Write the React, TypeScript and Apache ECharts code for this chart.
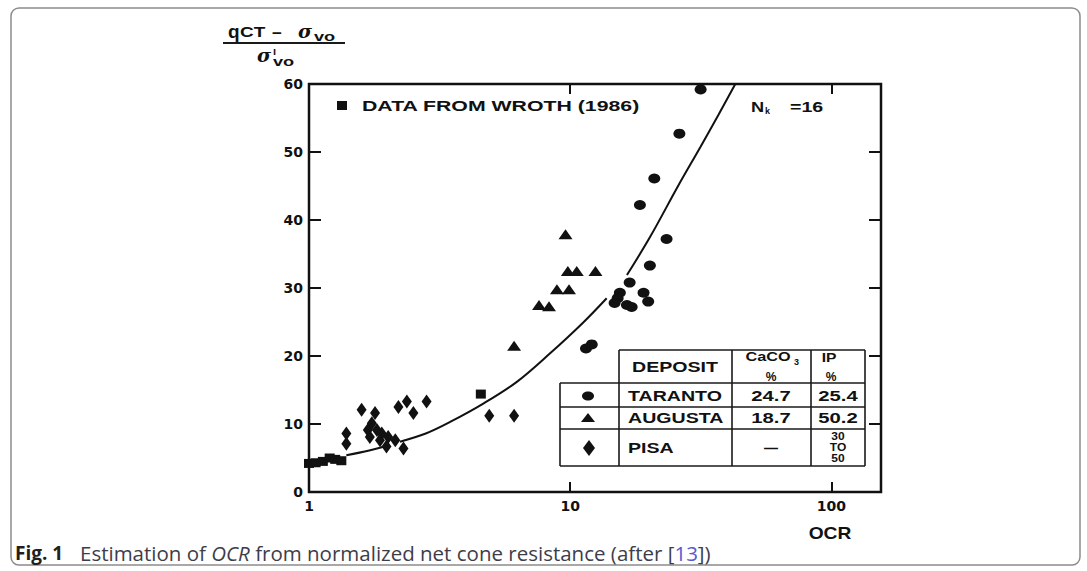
import React, { useEffect, useRef } from "react";
import * as echarts from "echarts";

// ---- Data ----
const xTickValues = [1, 10, 100];
const xTickLabels = ["1", "10", "100"];
const yTickLabels = ["0", "10", "20", "30", "40", "50", "60"];

// [OCR, (qct - svo)/s'vo]
const wrothData = [
  [1.0, 4.2], [1.06, 4.3], [1.13, 4.5], [1.2, 5.0], [1.26, 4.8], [1.33, 4.6], [4.55, 14.4],
];
const tarantoData = [
  [31.6, 59.2], [26.2, 52.7], [21.0, 46.1], [18.5, 42.2], [23.4, 37.2], [20.2, 33.3],
  [16.9, 30.8], [15.5, 29.3], [19.1, 29.3], [14.8, 27.8], [16.5, 27.5], [17.2, 27.2],
  [19.9, 28.0], [15.2, 28.5], [11.5, 21.1], [12.1, 21.7],
];
const augustaData = [
  [9.6, 37.9], [9.8, 32.5], [10.6, 32.5], [12.5, 32.5], [8.9, 29.8], [9.9, 29.8],
  [7.6, 27.5], [8.3, 27.3], [6.1, 21.5],
];
const pisaData = [
  [1.39, 8.6], [1.39, 7.1], [1.59, 12.1], [1.79, 11.6], [1.74, 10.1], [1.82, 9.1],
  [1.68, 9.1], [1.71, 8.1], [1.9, 8.6], [2.01, 8.1], [1.87, 7.6], [1.98, 6.7],
  [2.14, 7.6], [2.2, 12.5], [2.37, 13.3], [2.51, 11.6], [2.3, 6.4], [2.82, 13.3],
  [4.9, 11.2], [6.1, 11.2],
];
// fitted curve (Nk = 16), drawn in three pieces as in the figure
const curveSeg1 = [[1.39, 5.4], [1.7, 6.1], [2.04, 6.9]];
const curveSeg2 = [
  [2.23, 7.4], [2.8, 8.6], [3.47, 10.3], [4.65, 13.0], [6.25, 16.2], [8.38, 20.4],
  [11.2, 24.9], [13.8, 28.5],
];
const curveSeg3 = [
  [16.5, 31.9], [20.3, 37.6], [25.9, 45.0], [31.5, 50.7], [36.9, 55.4], [42.9, 60],
];

// legend table
const depositNames = ["TARANTO", "AUGUSTA", "PISA"];
const caco3Values = ["24.7", "18.7", "—"];
const ipValues = ["25.4", "50.2", "30 TO 50"];

const INK = "#111";
const SANS = "'Liberation Sans', Arial, sans-serif";
const AXF = "'DejaVu Sans', sans-serif";

function txt(x: number, y: number, text: string, o: any = {}) {
  const align = o.align || "left";
  return {
    type: "text",
    x,
    y,
    scaleX: o.scaleX ?? 1,
    silent: true,
    style: {
      text,
      fill: o.fill || INK,
      fontFamily: o.fontFamily || SANS,
      fontSize: o.fontSize || 14,
      fontWeight: o.fontWeight || "bold",
      fontStyle: o.fontStyle || "normal",
      align,
      textAlign: align,
      verticalAlign: "middle",
      textVerticalAlign: "middle",
    },
  };
}
function ln(x1: number, y1: number, x2: number, y2: number, w = 1.6) {
  return {
    type: "line",
    silent: true,
    shape: { x1, y1, x2, y2 },
    style: { stroke: "#1a1a1a", lineWidth: w },
  };
}

export default function App() {
  const ref = useRef<HTMLDivElement>(null);
  useEffect(() => {
    if (!ref.current) return;
    const chart = echarts.init(ref.current, null, { renderer: "svg" });

    const labelFmt = (v: number) => {
      const i = xTickValues.findIndex((t) => Math.abs(t - v) < 1e-6);
      return i >= 0 ? xTickLabels[i] : "";
    };
    const yFmt = (v: number) => (yTickLabels.includes(String(v)) ? String(v) : "");

    const tickStyle = { color: INK, width: 2 };

    // table geometry
    const tL = 560, c1 = 619, c2 = 732, c3 = 811, tR = 865;
    const rTop = 350, r0 = 383, r1 = 407, r2 = 429, rB = 466;
    const rowY = [396, 418, 448];
    const S = 1.4; // horizontal stretch of the wide old-style lettering
    const serif = "'DejaVu Serif', serif";
    const CAP = "'Open Sans', sans-serif";

    const graphics: any[] = [
      // outer frame
      {
        type: "rect",
        silent: true,
        shape: { x: 11, y: 8, width: 1069, height: 557, r: 8 },
        style: { fill: "none", stroke: "#8c8c8c", lineWidth: 1.5 },
      },
      // y-axis title: (q_CT - sigma_vo) / sigma'_vo
      txt(228, 31, "q", { fontSize: 19 }),
      txt(240, 32, "CT", { fontSize: 14, scaleX: 1.35 }),
      txt(277, 33, "−", { fontSize: 17, align: "center" }),
      txt(298, 31, "σ", { fontSize: 19, fontFamily: serif, fontStyle: "italic", fontWeight: "bold" }),
      txt(314, 36, "vo", { fontSize: 13, scaleX: 1.4 }),
      ln(223, 43, 345, 43, 2),
      txt(257, 55, "σ", { fontSize: 19, fontFamily: serif, fontStyle: "italic", fontWeight: "bold" }),
      txt(273, 51, "ı", { fontSize: 11 }),
      txt(273, 61, "vo", { fontSize: 13, scaleX: 1.4 }),
      // Wroth note
      {
        type: "rect",
        silent: true,
        shape: { x: 337, y: 101, width: 10, height: 9 },
        style: { fill: INK },
      },
      txt(362, 106, "DATA FROM WROTH (1986)", { fontSize: 14, scaleX: 1.52 }),
      // Nk = 16
      txt(751, 107, "N", { fontSize: 14, scaleX: 1.3 }),
      txt(765, 111, "k", { fontSize: 9 }),
      txt(790, 107, "=16", { fontSize: 14, scaleX: 1.4 }),
      // x-axis title
      txt(830, 534, "OCR", { fontSize: 16, scaleX: 1.2, align: "center" }),
      // table lines
      ln(c1, rTop, tR, rTop),
      ln(tL, r0, tR, r0),
      ln(tL, r1, tR, r1),
      ln(tL, r2, tR, r2),
      ln(tL, rB, tR, rB),
      ln(tL, r0, tL, rB),
      ln(c1, rTop, c1, rB),
      ln(c2, rTop, c2, rB),
      ln(c3, rTop, c3, rB),
      ln(tR, rTop, tR, rB),
      // table header
      txt(632, 367, "DEPOSIT", { fontSize: 14, scaleX: S }),
      txt(768, 357, "CaCO", { fontSize: 13, scaleX: 1.25, align: "center" }),
      txt(794, 362, "3", { fontSize: 9 }),
      txt(771, 377, "%", { fontSize: 12, align: "center" }),
      txt(829, 357, "IP", { fontSize: 13, scaleX: 1.2, align: "center" }),
      txt(831, 377, "%", { fontSize: 12, align: "center" }),
      // table symbols
      {
        type: "ellipse",
        silent: true,
        shape: { cx: 588, cy: rowY[0], rx: 6, ry: 4.5 },
        style: { fill: INK },
      },
      {
        type: "polygon",
        silent: true,
        shape: { points: [[581, rowY[1] + 4], [595, rowY[1] + 4], [588, rowY[1] - 5]] },
        style: { fill: INK },
      },
      {
        type: "polygon",
        silent: true,
        shape: { points: [[589, rowY[2] - 8], [595, rowY[2]], [589, rowY[2] + 8], [583, rowY[2]]] },
        style: { fill: INK },
      },
      // caption
      txt(15, 553, "Fig. 1", { fontFamily: CAP, fontSize: 19, fill: "#231f20" }),
      {
        type: "text",
        x: 80,
        y: 553,
        silent: true,
        style: {
          text:
            "{n|Estimation of }{i|OCR}{n| from normalized net cone resistance (after [}{l|13}{n|])}",
          align: "left",
          textAlign: "left",
          verticalAlign: "middle",
          textVerticalAlign: "middle",
          rich: {
            n: { fontFamily: CAP, fontSize: 20.5, fill: "#3d3d4a", color: "#3d3d4a" },
            i: { fontFamily: CAP, fontStyle: "italic", fontSize: 20.5, fill: "#3d3d4a", color: "#3d3d4a" },
            l: { fontFamily: CAP, fontSize: 20.5, fill: "#5a5ad0", color: "#5a5ad0" },
          },
        },
      },
    ];

    // table row texts
    depositNames.forEach((name, i) => {
      graphics.push(txt(628, rowY[i], name, { fontSize: 14, scaleX: S }));
      graphics.push(txt(771, rowY[i], caco3Values[i], { fontSize: 14, scaleX: caco3Values[i] === "—" ? 1 : 1.45, align: "center" }));
      if (ipValues[i].includes("TO")) {
        const parts = ipValues[i].split(" ");
        parts.forEach((p, k) => graphics.push(txt(838, 436 + k * 11, p, { fontSize: 10, scaleX: 1.2, align: "center" })));
      } else {
        graphics.push(txt(838, rowY[i], ipValues[i], { fontSize: 14, scaleX: 1.45, align: "center" }));
      }
    });

    const xAxisBase = {
      type: "log",
      logBase: 10,
      min: 1,
      max: 155,
      splitLine: { show: false },
      minorTick: { show: false },
      axisLine: { show: false, onZero: false },
      axisTick: { show: true, inside: true, length: 10, lineStyle: tickStyle, customValues: xTickValues },
    };
    const yAxisBase = {
      type: "value",
      min: 0,
      max: 60,
      interval: 10,
      splitLine: { show: false },
      axisLine: { show: false, onZero: false },
      axisTick: { show: true, inside: true, length: 12, lineStyle: tickStyle },
    };

    const lineSeries = (data: number[][]) => ({
      type: "line",
      data,
      smooth: 0.35,
      symbol: "none",
      xAxisIndex: 0,
      yAxisIndex: 0,
      lineStyle: { color: INK, width: 2 },
      z: 2,
    });
    const scatter = (name: string, data: number[][], symbol: string, size: number[]) => ({
      type: "scatter",
      name,
      data,
      symbol,
      symbolSize: size,
      clip: false,
      xAxisIndex: 0,
      yAxisIndex: 0,
      itemStyle: { color: INK, opacity: 1 },
      z: 3,
    });

    chart.setOption({
      animation: false,
      backgroundColor: "#ffffff",
      grid: {
        left: 309, right: 206, top: 84, bottom: 79, containLabel: false,
        show: true, borderColor: INK, borderWidth: 2.5, backgroundColor: "transparent",
      },
      xAxis: [
        {
          ...xAxisBase,
          position: "bottom",
          axisLabel: {
            customValues: xTickValues,
            formatter: labelFmt,
            fontFamily: AXF,
            fontWeight: "bold",
            fontSize: 14,
            color: INK,
            margin: 7,
          },
        },
        { ...xAxisBase, position: "top", axisLabel: { show: false } },
      ],
      yAxis: [
        {
          ...yAxisBase,
          position: "left",
          axisLabel: { formatter: yFmt, fontFamily: AXF, fontWeight: "bold", fontSize: 14, color: INK, margin: 6 },
        },
        { ...yAxisBase, position: "right", axisLabel: { show: false } },
      ],
      series: [
        lineSeries(curveSeg1),
        lineSeries(curveSeg2),
        lineSeries(curveSeg3),
        scatter("DATA FROM WROTH (1986)", wrothData, "rect", [10, 9]),
        scatter("TARANTO", tarantoData, "circle", [12, 10]),
        scatter("AUGUSTA", augustaData, "triangle", [14, 10]),
        scatter("PISA", pisaData, "diamond", [10, 14]),
      ],
      graphic: graphics,
    });

    return () => chart.dispose();
  }, []);

  return (
    <div
      ref={ref}
      style={{ position: "fixed", left: 0, top: 0, width: 1087, height: 571, background: "#fff" }}
    />
  );
}
